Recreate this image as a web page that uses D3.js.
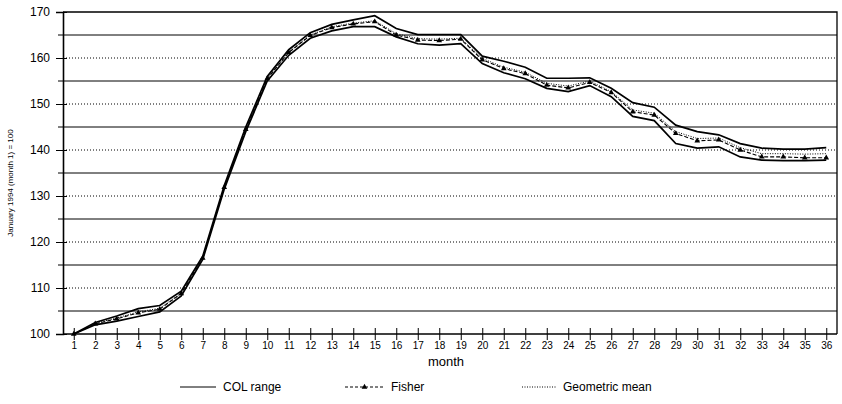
<!DOCTYPE html>
<html>
<head>
<meta charset="utf-8">
<script src="https://cdn.jsdelivr.net/npm/d3@7"></script>
<style>
  body { margin: 0; background: #fff; }
  svg { display: block; font-family: "Liberation Sans", Arial, sans-serif; }
</style>
</head>
<body>
<div id="container"></div>
<script>
/* CONSTANTS AND GLOBALS */
const width = 842,
  height = 404,
  margin = ({top: 12, right: 5, bottom: 70, left: 63});

// months 1..36
const months = d3.range(1, 37);

// COL range, upper and lower bound
const colUpper = [100, 102.5, 103.9, 105.5, 106.2, 109.3, 116.9, 132.3, 145, 156, 161.8, 165.5,
  167.3, 168.3, 169.2, 166.4, 165.1, 165.1, 165.1, 160.4, 159.3, 158, 155.6, 155.6,
  155.7, 153.4, 150.3, 149.3, 145.4, 144, 143.3, 141.4, 140.4, 140.2, 140.2, 140.5];
const colLower = [100, 102, 102.8, 103.8, 104.8, 108.3, 116.2, 131.5, 144, 155, 160.6, 164.3,
  165.9, 166.8, 166.8, 164.6, 163.1, 162.8, 163.1, 158.8, 156.8, 155.5, 153.4, 152.7,
  154, 151.6, 147.3, 146.4, 141.4, 140.4, 140.7, 138.5, 137.8, 137.7, 137.7, 137.8];
const fisher = [100, 102.2, 103.3, 104.6, 105.4, 108.8, 116.5, 131.9, 144.5, 155.5, 161.2, 164.9,
  166.6, 167.4, 167.9, 165, 163.9, 163.8, 164.1, 159.6, 157.7, 156.6, 154.1, 153.5,
  154.7, 152.5, 148.3, 147.6, 143.6, 142, 142.2, 140, 138.5, 138.5, 138.3, 138.3];
const geoMean = [100, 102.3, 103.5, 104.8, 105.6, 108.9, 116.6, 132, 144.6, 155.6, 161.3, 165,
  166.8, 167.6, 168.1, 165.3, 164.2, 164.1, 164.3, 159.9, 158, 156.9, 154.5, 153.9,
  155, 152.7, 148.7, 148, 144, 142.5, 142.6, 140.5, 139.2, 139.2, 139.1, 139.2];

const yMajor = [100, 110, 120, 130, 140, 150, 160, 170];
const yMinor = [105, 115, 125, 135, 145, 155, 165];

const yLabel = "January 1994 (month 1) = 100";
const xLabel = "month";
const legendLabels = ["COL range", "Fisher", "Geometric mean"];

const svg = d3.select("#container")
  .append("svg")
  .attr("width", width)
  .attr("height", height);

const x = d3.scalePoint()
  .domain(months)
  .range([margin.left, width - margin.right])
  .padding(0.5);

const y = d3.scaleLinear()
  .domain([100, 170])
  .range([height - margin.bottom, margin.top]);

const x0 = margin.left, x1 = width - margin.right;

// gridlines: solid at the 5s, dotted at the 10s
svg.append("g")
  .selectAll("line")
  .data(yMinor)
  .join("line")
  .attr("x1", x0).attr("x2", x1)
  .attr("y1", d => y(d)).attr("y2", d => y(d))
  .attr("stroke", "#000")
  .attr("stroke-width", 1);

svg.append("g")
  .selectAll("line")
  .data(yMajor.filter(d => d > 100 && d < 170))
  .join("line")
  .attr("x1", x0).attr("x2", x1)
  .attr("y1", d => y(d)).attr("y2", d => y(d))
  .attr("stroke", "#000")
  .attr("stroke-width", 1)
  .attr("stroke-dasharray", "1,2");

// frame top + right
svg.append("path")
  .attr("d", `M${x0},${y(170)}H${x1}V${y(100)}`)
  .attr("fill", "none")
  .attr("stroke", "#000")
  .attr("stroke-width", 1.3);

// y axis
const yAxis = svg.append("g")
  .attr("transform", `translate(${x0},0)`)
  .call(d3.axisLeft(y).tickValues(yMajor).tickSize(7).tickPadding(6).tickFormat(d3.format("d")));
yAxis.select(".domain").attr("stroke-width", 1.6);
yAxis.selectAll(".tick line").attr("x2", 4).attr("x1", -7);
yAxis.selectAll(".tick text")
  .attr("font-size", 12)
  .attr("font-family", "Liberation Sans, Arial, sans-serif");
yAxis.append("g")
  .selectAll("line")
  .data(yMinor)
  .join("line")
  .attr("x1", -5).attr("x2", 0)
  .attr("y1", d => y(d)).attr("y2", d => y(d))
  .attr("stroke", "#000");

// x axis, ticks cross the line
const xAxis = svg.append("g")
  .attr("transform", `translate(0,${y(100)})`)
  .call(d3.axisBottom(x).tickSize(6).tickPadding(2).tickSizeOuter(0));
xAxis.select(".domain").attr("stroke-width", 1.6).attr("d", `M${x0},0H${x1}`);
xAxis.selectAll(".tick line").attr("y1", -6).attr("y2", 6);
xAxis.selectAll(".tick text")
  .attr("font-size", 10)
  .attr("font-family", "Liberation Sans, Arial, sans-serif");

// series
const line = d3.line()
  .x((d, i) => x(months[i]))
  .y(d => y(d));

svg.append("path")
  .datum(colUpper)
  .attr("d", line)
  .attr("fill", "none")
  .attr("stroke", "#000")
  .attr("stroke-width", 1.7);
svg.append("path")
  .datum(colLower)
  .attr("d", line)
  .attr("fill", "none")
  .attr("stroke", "#000")
  .attr("stroke-width", 1.7);
svg.append("path")
  .datum(geoMean)
  .attr("d", line)
  .attr("fill", "none")
  .attr("stroke", "#000")
  .attr("stroke-width", 1)
  .attr("stroke-dasharray", "1,1.5");
svg.append("path")
  .datum(fisher)
  .attr("d", line)
  .attr("fill", "none")
  .attr("stroke", "#000")
  .attr("stroke-width", 1.1)
  .attr("stroke-dasharray", "4,2");

const tri = d3.symbol().type(d3.symbolTriangle).size(14);
svg.append("g")
  .selectAll("path")
  .data(fisher)
  .join("path")
  .attr("transform", (d, i) => `translate(${x(months[i])},${y(d)})`)
  .attr("d", tri)
  .attr("fill", "#000");

// axis titles
svg.append("text")
  .attr("transform", `translate(13,${(y(100) + y(170)) / 2 + 10}) rotate(-90)`)
  .attr("text-anchor", "middle")
  .attr("font-size", 8)
  .text(yLabel);

svg.append("text")
  .attr("x", 446)
  .attr("y", 366)
  .attr("text-anchor", "middle")
  .attr("font-size", 13)
  .text(xLabel);

// legend
const legendX = [180, 345, 522];
const legendLen = [36, 39, 34];
const ly = 387;
const lg = svg.append("g");

lg.append("line")
  .attr("x1", legendX[0]).attr("x2", legendX[0] + legendLen[0])
  .attr("y1", ly).attr("y2", ly)
  .attr("stroke", "#000");
lg.append("line")
  .attr("x1", legendX[1]).attr("x2", legendX[1] + legendLen[1])
  .attr("y1", ly).attr("y2", ly)
  .attr("stroke", "#000")
  .attr("stroke-dasharray", "3,2");
lg.append("path")
  .attr("transform", `translate(${legendX[1] + legendLen[1] / 2},${ly})`)
  .attr("d", tri)
  .attr("fill", "#000");
lg.append("line")
  .attr("x1", legendX[2]).attr("x2", legendX[2] + legendLen[2])
  .attr("y1", ly).attr("y2", ly)
  .attr("stroke", "#000")
  .attr("stroke-dasharray", "1,1.5");

lg.selectAll("text")
  .data(legendLabels)
  .join("text")
  .attr("x", (d, i) => legendX[i] + legendLen[i] + 7)
  .attr("y", ly + 4)
  .attr("font-size", 12)
  .text(d => d);
</script>
</body>
</html>
